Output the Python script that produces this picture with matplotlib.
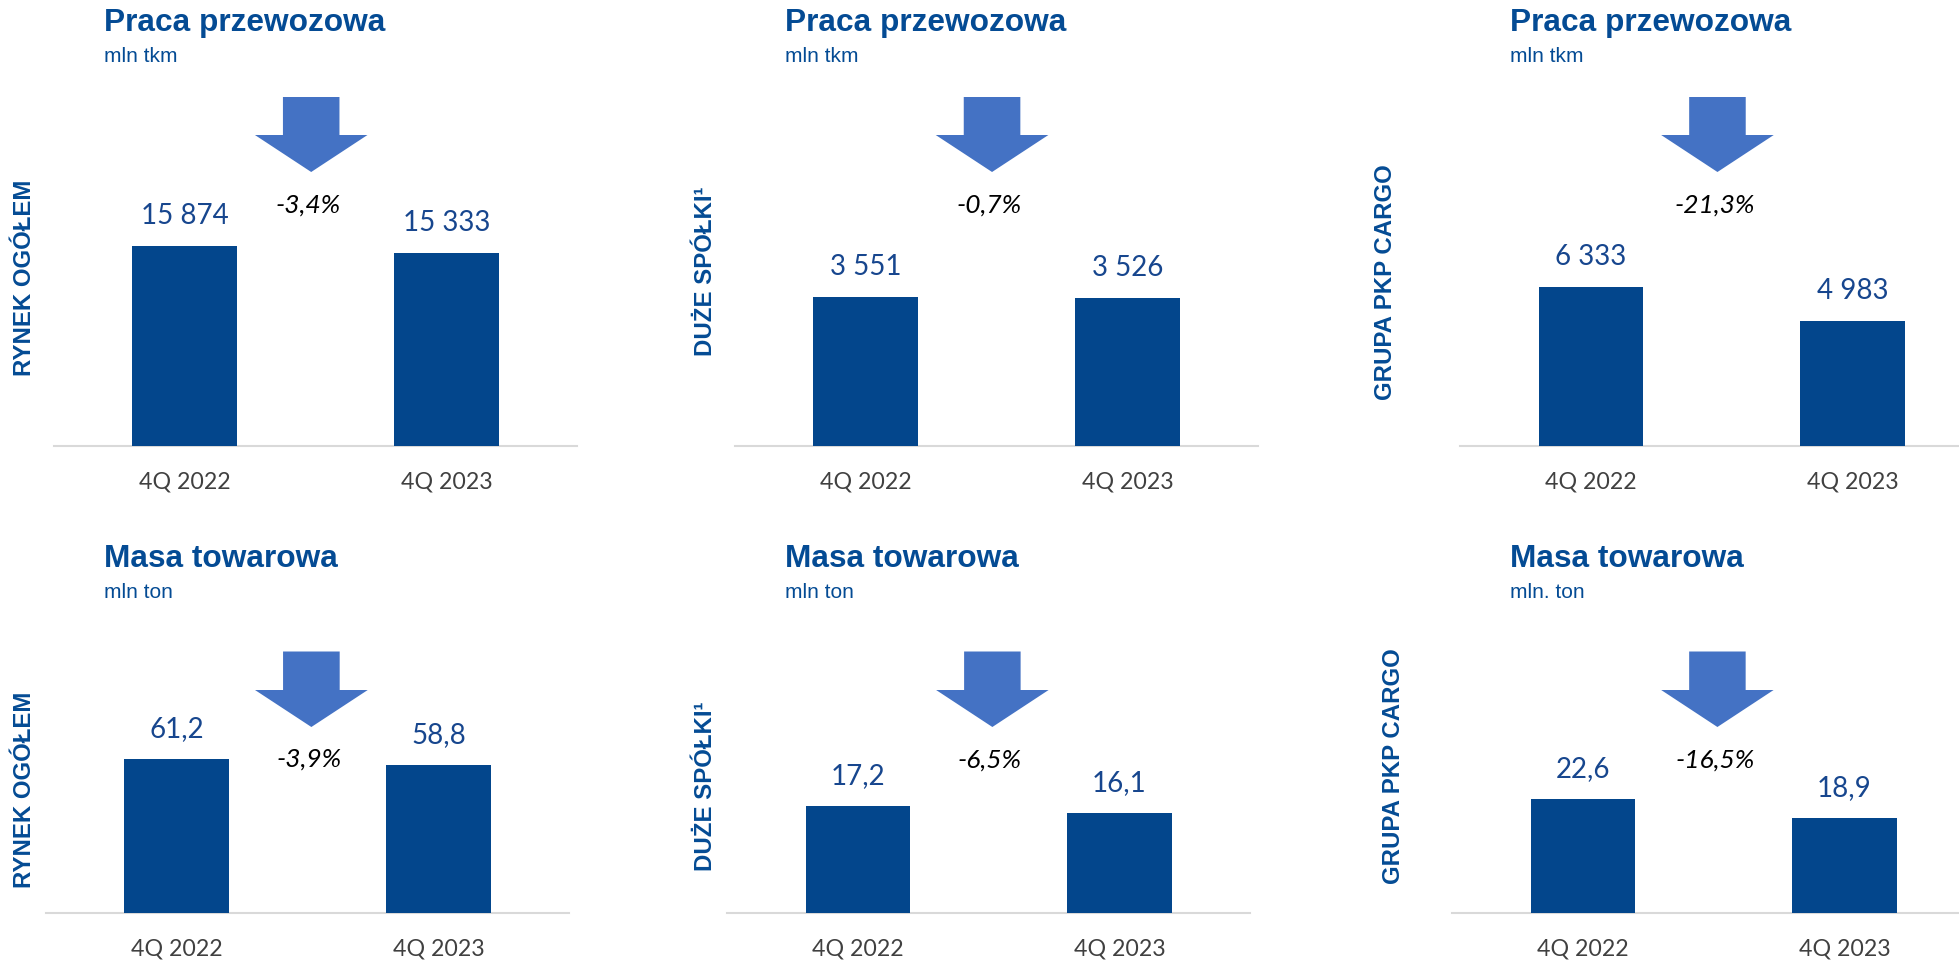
import matplotlib
matplotlib.use("Agg")
import matplotlib.pyplot as plt
from matplotlib.patches import Polygon
from matplotlib.transforms import blended_transform_factory

# data
categories = ["4Q 2022", "4Q 2023"]
praca_rynek = [15874, 15333]
praca_duze = [3551, 3526]
praca_pkp = [6333, 4983]
masa_rynek = [61.2, 58.8]
masa_duze = [17.2, 16.1]
masa_pkp = [22.6, 18.9]
praca_change = ["-3,4%", "-0,7%", "-21,3%"]
masa_change = ["-3,9%", "-6,5%", "-16,5%"]
segments = ["RYNEK OGÓŁEM", "DUŻE SPÓŁKI¹", "GRUPA PKP CARGO"]
praca_units = ["mln tkm", "mln tkm", "mln tkm"]
masa_units = ["mln ton", "mln ton", "mln. ton"]

BAR = "#03468C"
ARROW = "#4472C4"
TITLE = "#044B94"
VALUE = "#17468E"
TICK = "#404040"

W, H = 1959, 965
fig = plt.figure(figsize=(W / 100, H / 100), dpi=100)


def fx(px):
    return px / W


def fy(py):
    return 1 - py / H


def fmt(v):
    if isinstance(v, int):
        return f"{v:,}".replace(",", " ")
    return f"{v:.1f}".replace(".", ",")


# layout per row, in pixels: (first bar centre, bar spacing, axis left, axis right)
rows = [
    dict(values=[praca_rynek, praca_duze, praca_pkp], ymax=[21100, 6340, 10600],
         change=praca_change, units=praca_units, title="Praca przewozowa",
         base=446, top=180, title_y=31.5, unit_y=62, arrow=(97, 135, 172), arrow_x=0.483,
         pct_y=[205, 205, 205],
         cols=[(184.8, 261.7, 54, 577), (865.5, 262, 735, 1258), (1591, 261.8, 1460, 1959)],
         seg_pos=[(25, 278), (706, 271), (1386, 282)]),
    dict(values=[masa_rynek, masa_duze, masa_pkp], ymax=[105.7, 42.8, 52.7],
         change=masa_change, units=masa_units, title="Masa towarowa",
         base=913, top=647, title_y=567, unit_y=598, arrow=(651.5, 690, 727), arrow_x=0.514,
         pct_y=[759, 760, 760],
         cols=[(176.6, 262.2, 46, 569), (857.9, 261.6, 727, 1250), (1583, 261.5, 1452, 1959)],
         seg_pos=[(25, 790), (706, 786), (1393, 766)]),
]
title_x = [104, 785, 1510.5]

for row in rows:
    for i in range(3):
        c0, sp, xl, xr = row["cols"][i]
        ax = fig.add_axes([fx(xl), fy(row["base"]), fx(xr - xl), (row["base"] - row["top"]) / H])
        vals = row["values"][i]
        ax.bar([0, 1], vals, width=0.4, color=BAR, zorder=3)
        ax.set_xlim((xl - c0) / sp, (xr - c0) / sp)
        ax.set_ylim(0, row["ymax"][i])
        for x, v in zip([0, 1], vals):
            ax.annotate(fmt(v), (x, v), xytext=(0, 21.5), textcoords="offset points",
                        ha="center", va="center", fontsize=20, color=VALUE, family="Lato")
        ax.set_xticks([0, 1], categories)
        ax.tick_params(axis="x", length=0, pad=18.5, labelsize=16.7, labelcolor=TICK)
        for lab in ax.get_xticklabels():
            lab.set_family("Lato")
        ax.set_yticks([])
        for s in ["top", "left", "right"]:
            ax.spines[s].set_visible(False)
        ax.spines["bottom"].set_color("#D9D9D9")
        ax.spines["bottom"].set_linewidth(1.5)

        # arrow + change label
        tr = blended_transform_factory(ax.transData, fig.transFigure)
        a0, a1, a2 = row["arrow"]
        ac = row["arrow_x"]
        hw, sw = 0.215, 0.108
        pts = [(ac - sw, fy(a0)), (ac + sw, fy(a0)), (ac + sw, fy(a1)), (ac + hw, fy(a1)),
               (ac, fy(a2)), (ac - hw, fy(a1)), (ac - sw, fy(a1))]
        ax.add_patch(Polygon(pts, closed=True, facecolor=ARROW, edgecolor="none",
                             transform=tr, clip_on=False))
        ax.text(ac - 0.01, fy(row["pct_y"][i]), row["change"][i], transform=tr, ha="center",
                va="center", fontsize=19, style="italic", color="black", family="Lato")

        # titles
        fig.text(fx(title_x[i]), fy(row["title_y"]), row["title"], ha="left", va="baseline",
                 fontsize=22.8, fontweight="bold", color=TITLE, family="Liberation Sans")
        fig.text(fx(title_x[i]), fy(row["unit_y"]), row["units"][i], ha="left", va="baseline",
                 fontsize=15, color=TITLE, family="Liberation Sans")
        sx, sy = row["seg_pos"][i]
        fig.text(fx(sx), fy(sy), segments[i], rotation=90, ha="center", va="center",
                 fontsize=17.3, fontweight="bold", color=TITLE, family="Liberation Sans")

fig.savefig("out.png", dpi=100)
